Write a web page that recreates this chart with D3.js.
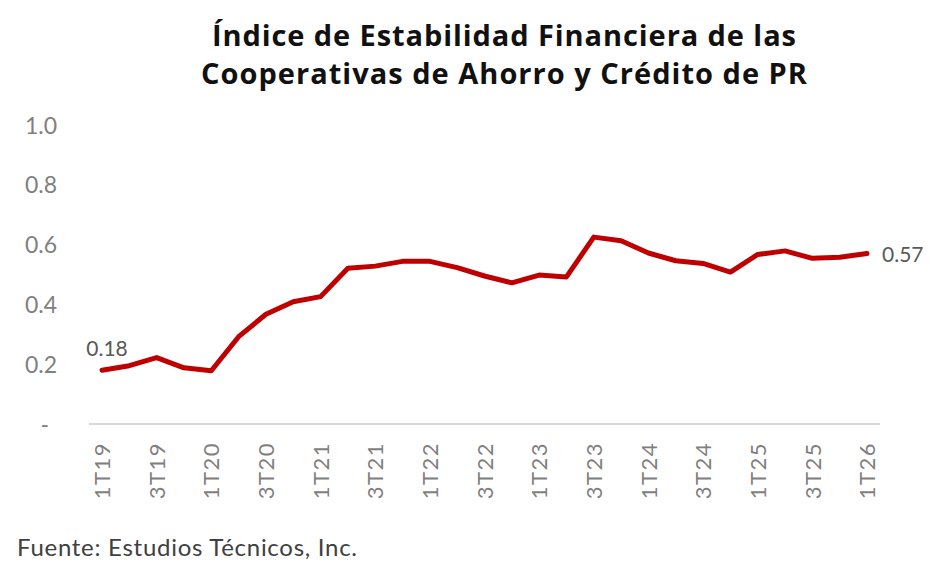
<!DOCTYPE html>
<html>
    <head>
        <meta charset="utf-8">
        <title></title>
        <style>
            body { margin: 0; background: #fff; }
            text { font-family: Lato, "Noto Sans", sans-serif; }
        </style>
    </head>
    <body>
        <script src="https://cdnjs.cloudflare.com/ajax/libs/d3/7.8.5/d3.min.js" charset="utf-8"></script>
        <script>

        var w = 933;
        var h = 573;

        // quarters 1T19 .. 1T26
        var quarters = ["1T19","2T19","3T19","4T19","1T20","2T20","3T20","4T20",
                        "1T21","2T21","3T21","4T21","1T22","2T22","3T22","4T22",
                        "1T23","2T23","3T23","4T23","1T24","2T24","3T24","4T24",
                        "1T25","2T25","3T25","4T25","1T26"];
        var values = [0.18, 0.195, 0.222, 0.188, 0.178, 0.292, 0.367, 0.409,
                      0.426, 0.521, 0.528, 0.544, 0.544, 0.523, 0.495, 0.472,
                      0.498, 0.492, 0.625, 0.613, 0.572, 0.546, 0.537, 0.508,
                      0.567, 0.579, 0.554, 0.558, 0.57];
        var yTicks = [0, 0.2, 0.4, 0.6, 0.8, 1.0];
        var xTickLabels = quarters.filter(function(d, i) { return i % 2 == 0; });

        var titleLines = ["Índice de Estabilidad Financiera de las",
                          "Cooperativas de Ahorro y Crédito de PR"];
        var titleWidths = [584, 606];
        var source = "Fuente: Estudios Técnicos, Inc.";

        var svg = d3.select("body")
                    .append("svg")
                    .attr("width", w)
                    .attr("height", h);

        var xScale = d3.scalePoint()
                       .domain(quarters)
                       .range([102, 867]);

        var yScale = d3.scaleLinear()
                       .domain([0, 1])
                       .range([424, 125]);

        //Title
        svg.selectAll("text.title")
            .data(titleLines)
            .enter()
            .append("text")
            .attr("class", "title")
            .attr("x", 504)
            .attr("y", function(d, i) { return 46 + i * 38; })
            .attr("text-anchor", "middle")
            .attr("font-size", "29px")
            .attr("font-weight", "bold")
            .attr("fill", "#111")
            .attr("textLength", function(d, i) { return titleWidths[i]; })
            .attr("lengthAdjust", "spacing")
            .style("font-family", "'Open Sans', sans-serif")
            .text(function(d) { return d; });

        //Y axis (labels only)
        var yAxis = d3.axisLeft(yScale)
                      .tickValues(yTicks)
                      .tickSize(0)
                      .tickPadding(0)
                      .tickFormat(function(d) { return d == 0 ? "-" : d3.format(".1f")(d); });

        var gy = svg.append("g")
                    .attr("transform", "translate(57,0)")
                    .call(yAxis);
        gy.select(".domain").remove();
        gy.selectAll("text")
          .attr("font-size", "23px")
          .attr("fill", "#7f7f7f")
          .attr("dy", "0.35em")
          .style("font-family", "Lato, 'Noto Sans', sans-serif");
        gy.selectAll("text")
          .filter(function(d) { return d == 0; })
          .attr("x", -8);

        //X axis line
        svg.append("line")
            .attr("x1", 89)
            .attr("x2", 880)
            .attr("y1", yScale(0))
            .attr("y2", yScale(0))
            .attr("stroke", "#d9d9d9")
            .attr("stroke-width", 2);

        //X tick labels (rotated)
        var xAxis = d3.axisBottom(xScale)
                      .tickValues(xTickLabels)
                      .tickSize(0)
                      .tickPadding(0);

        var gx = svg.append("g")
                    .attr("transform", "translate(0," + 442 + ")")
                    .call(xAxis);
        gx.select(".domain").remove();
        gx.selectAll("text")
          .attr("transform", "rotate(-90)")
          .attr("text-anchor", "end")
          .attr("x", 0)
          .attr("y", 0)
          .attr("dy", "0.35em")
          .attr("font-size", "22px")
          .attr("letter-spacing", "1.5px")
          .attr("fill", "#7f7f7f")
          .style("font-family", "Lato, 'Noto Sans', sans-serif");

        //Line
        var line = d3.line()
                     .x(function(d, i) { return xScale(quarters[i]); })
                     .y(function(d) { return yScale(d); });

        svg.append("path")
            .datum(values)
            .attr("d", line)
            .attr("fill", "none")
            .attr("stroke", "#c00000")
            .attr("stroke-width", 5)
            .attr("stroke-linejoin", "round")
            .attr("stroke-linecap", "round");

        //End labels
        var n = values.length - 1;
        svg.append("text")
            .attr("x", xScale(quarters[0]) + 5)
            .attr("y", yScale(values[0]) - 14)
            .attr("text-anchor", "middle")
            .attr("font-size", "21px")
            .attr("fill", "#595959")
            .text(d3.format(".2f")(values[0]));

        svg.append("text")
            .attr("x", xScale(quarters[n]) + 15)
            .attr("y", yScale(values[n]) + 8)
            .attr("font-size", "21px")
            .attr("fill", "#595959")
            .text(d3.format(".2f")(values[n]));

        //Source
        svg.append("text")
            .attr("x", 17)
            .attr("y", 556)
            .attr("font-size", "24px")
            .attr("fill", "#404040")
            .attr("textLength", 340)
            .attr("lengthAdjust", "spacing")
            .text(source);

        </script>
    </body>
</html>
